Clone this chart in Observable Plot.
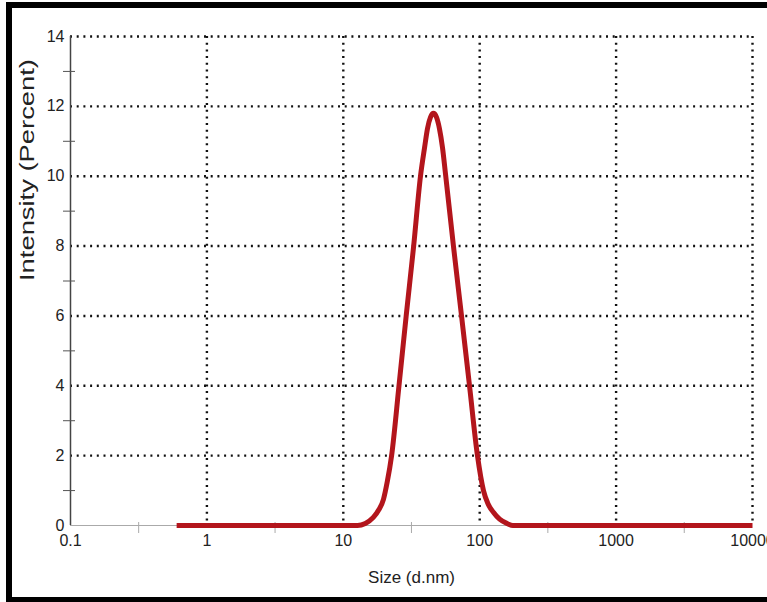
<!DOCTYPE html>
<html>
<head>
<meta charset="utf-8">
<script src="https://cdn.jsdelivr.net/npm/d3@7"></script>
<script src="https://cdn.jsdelivr.net/npm/@observablehq/plot@0.6"></script>
<style>
  html, body { margin: 0; padding: 0; background: #fff; }
  #wrap { position: relative; width: 767px; height: 602px; overflow: hidden; background: #fff; }
  #frame { position: absolute; left: 6px; top: 2px; width: 800px; height: 589px;
           border-left: 6px solid #000; border-top: 6px solid #000; border-bottom: 5px solid #000;
           pointer-events: none; }
  #chart { position: absolute; left: 0; top: 0; }
</style>
</head>
<body>
<div id="wrap"><div id="chart"></div><div id="frame"></div></div>
<script>
// Particle size distribution (by intensity)
const sizes = [0.6, 1, 2, 5, 10, 12.7, 14.5, 16.6, 18.2, 19.7, 21, 22.6, 25.6, 28.9, 32.8, 36.8, 39.4, 41.4, 43.6, 45.8, 48.2, 50.7, 53.4, 56.2, 64.2, 73.6, 84.2, 96.3, 106.6, 115, 126, 140, 160, 175, 300, 1000, 3000, 10000];
const intensity = [0, 0, 0, 0, 0, 0, 0.06, 0.23, 0.45, 0.75, 1.25, 2.0, 4.0, 6.0, 8.0, 10.0, 10.81, 11.36, 11.69, 11.8, 11.69, 11.36, 10.81, 10.05, 8.0, 6.0, 4.0, 2.0, 1.0, 0.62, 0.38, 0.18, 0.05, 0, 0, 0, 0, 0];

const xTicks = [0.1, 1, 10, 100, 1000, 10000];
const xTickLabels = ["0.1", "1", "10", "100", "1000", "10000"];
const xGrid = [1, 10, 100, 1000, 10000];
const xMinor = [0.316, 3.16, 31.6, 316, 3160];
const yTicks = [0, 2, 4, 6, 8, 10, 12, 14];
const yGrid = [2, 4, 6, 8, 10, 12, 14];
const yMinor = [1, 3, 5, 7, 9, 11, 13];
const xTitle = "Size (d.nm)";
const yTitle = "Intensity (Percent)";

const data = sizes.map((s, i) => ({size: s, value: intensity[i]}));
const xLabelMap = new Map(xTicks.map((t, i) => [t, xTickLabels[i]]));

const dotted = {stroke: "#111", strokeOpacity: 1, strokeWidth: 2.4, strokeDasharray: "2,4.7"};

const svg = Plot.plot({
  width: 767,
  height: 602,
  marginLeft: 70,
  marginRight: 15,
  marginTop: 36,
  marginBottom: 77,
  style: {
    background: "transparent",
    fontFamily: "'Liberation Sans Narrow', 'Liberation Sans', Arial, sans-serif",
    fontSize: "15px",
    color: "#222"
  },
  x: {type: "log", domain: [0.1, 10000]},
  y: {domain: [0, 14]},
  marks: [
    Plot.gridY(yGrid, dotted),
    Plot.gridX(xGrid, dotted),
    Plot.ruleY([0], {stroke: "#aaa", strokeWidth: 1.2}),
    Plot.tickX(xMinor, {x: d => d, stroke: "#aaa", strokeWidth: 1, insetTop: 486, insetBottom: -8}),
    Plot.ruleX([0.1], {stroke: "#444", strokeWidth: 1.5}),
    Plot.tickY(yMinor, {y: d => d, stroke: "#555", strokeWidth: 1, insetLeft: -7, insetRight: 677}),
    Plot.axisX(xTicks, {tickFormat: d => xLabelMap.get(d) ?? String(d), tickSize: 0, tickPadding: 9, label: null, fontSize: 16, fill: "#222"}),
    Plot.axisY(yTicks, {tickFormat: d => String(d), tickSize: 0, tickPadding: 6, label: null, fontSize: 16, fill: "#222"}),
    Plot.line(data, {x: "size", y: "value", curve: "monotone-x", stroke: "#b3151c", strokeWidth: 5, strokeLinejoin: "round", strokeLinecap: "butt"}),
    Plot.text([xTitle], {frameAnchor: "bottom", dy: 57, fontSize: 17, fill: "#222"}),
    Plot.text([yTitle], {frameAnchor: "left", dx: -43, rotate: -90, fontSize: 20, fill: "#222",
      fontFamily: "'Liberation Sans', Arial, sans-serif"})
  ]
});

d3.select(svg).selectAll("text")
  .filter(function () { return this.textContent === yTitle; })
  .attr("textLength", 222)
  .attr("lengthAdjust", "spacingAndGlyphs");

document.getElementById("chart").appendChild(svg);
</script>
</body>
</html>
